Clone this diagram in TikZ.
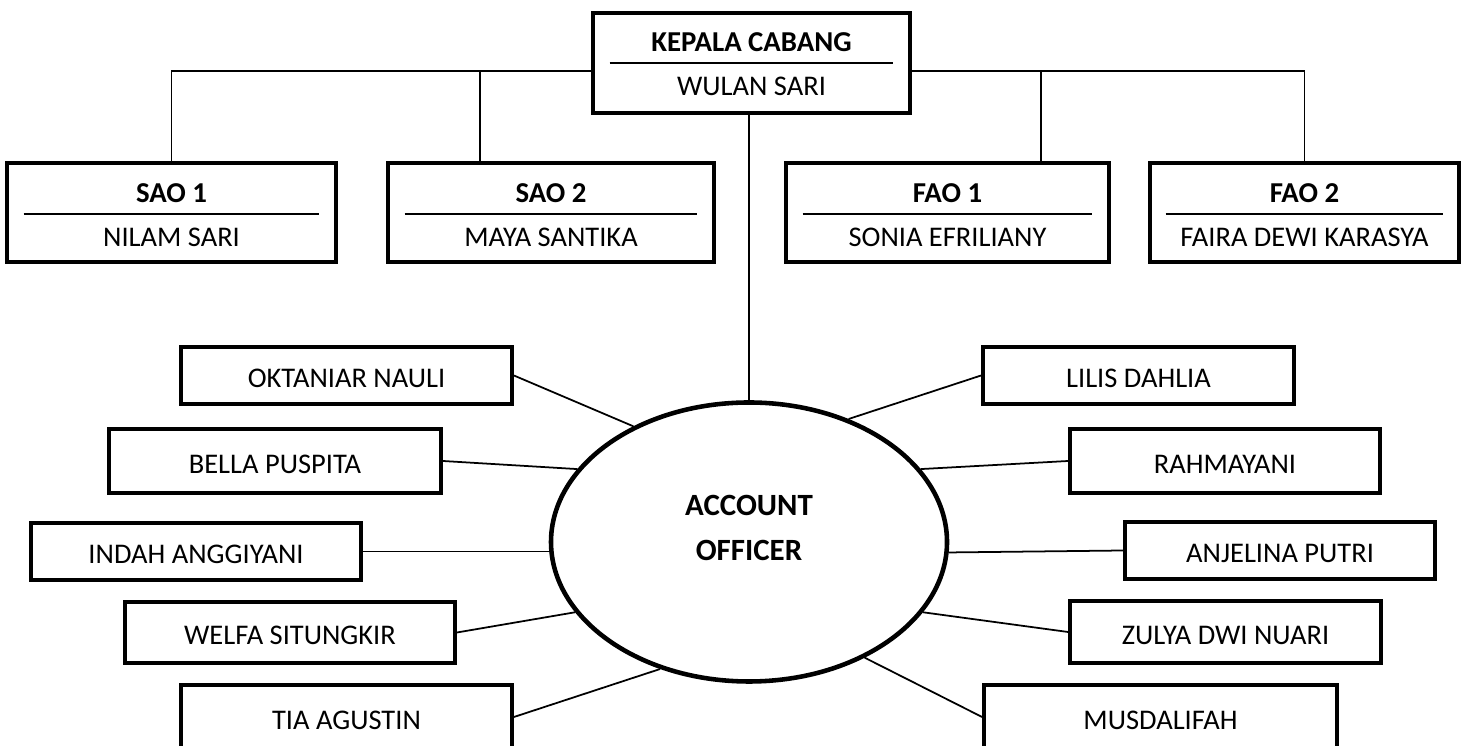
\documentclass[tikz,border=0pt]{standalone}
\usepackage{fontspec}
\setmainfont{Carlito}
\usepackage{tikz}
\usetikzlibrary{shapes.geometric}

\begin{document}
\begin{tikzpicture}[
		every node/.style = {font = \fontsize{8.1}{10}\selectfont},
		headbox/.style = {draw, line width = 1.1pt, minimum height = 0.99cm, inner sep = 0pt},
		namebox/.style = {draw, line width = 1.1pt, inner sep = 0pt, text height = 6.9pt, text depth = 0pt},
		headtext/.style = {anchor = base, inner sep = 0pt, font = \fontsize{8.2}{10}\selectfont\bfseries},
		nametext/.style = {anchor = base, inner sep = 0pt},
		link/.style = {line width = 0.5pt},
		split/.style = {line width = 0.35pt}
	]
		\useasboundingbox (0, 0) rectangle (14.67, -7.46);

		% kepala cabang
		\node [headbox, minimum width = 3.17cm, minimum height = 1.0cm] (kc) at (7.515, -0.63) {};
		\node [headtext] (kcT) at ([yshift = -0.40cm] kc.north) {KEPALA CABANG};
		\draw [split] ([xshift = 0.185cm, yshift = -0.52cm] kc.north west)
			-- ([xshift = -0.185cm, yshift = -0.52cm] kc.north east);
		\node [nametext] (kcN) at ([yshift = -0.84cm] kc.north) {WULAN SARI};

		% second row
		\node [headbox, minimum width = 3.29cm] (sao1) at (1.715, -2.125) {};
		\node [headtext] (sao1T) at ([yshift = -0.41cm] sao1.north) {SAO 1};
		\draw [split] ([xshift = 0.185cm, yshift = -0.53cm] sao1.north west)
			-- ([xshift = -0.185cm, yshift = -0.53cm] sao1.north east);
		\node [nametext] (sao1N) at ([yshift = -0.85cm] sao1.north) {NILAM SARI};

		\node [headbox, minimum width = 3.26cm] (sao2) at (5.51, -2.125) {};
		\node [headtext] (sao2T) at ([yshift = -0.41cm] sao2.north) {SAO 2};
		\draw [split] ([xshift = 0.185cm, yshift = -0.53cm] sao2.north west)
			-- ([xshift = -0.185cm, yshift = -0.53cm] sao2.north east);
		\node [nametext] (sao2N) at ([yshift = -0.85cm] sao2.north) {MAYA SANTIKA};

		\node [headbox, minimum width = 3.23cm] (fao1) at (9.475, -2.125) {};
		\node [headtext] (fao1T) at ([yshift = -0.41cm] fao1.north) {FAO 1};
		\draw [split] ([xshift = 0.185cm, yshift = -0.53cm] fao1.north west)
			-- ([xshift = -0.185cm, yshift = -0.53cm] fao1.north east);
		\node [nametext] (fao1N) at ([yshift = -0.85cm] fao1.north) {SONIA EFRILIANY};

		\node [headbox, minimum width = 3.09cm] (fao2) at (13.045, -2.125) {};
		\node [headtext] (fao2T) at ([yshift = -0.41cm] fao2.north) {FAO 2};
		\draw [split] ([xshift = 0.175cm, yshift = -0.53cm] fao2.north west)
			-- ([xshift = -0.175cm, yshift = -0.53cm] fao2.north east);
		\node [nametext] (fao2N) at ([yshift = -0.85cm] fao2.north) {FAIRA DEWI KARASYA};

		% account officer
		\node [draw, ellipse, line width = 1.3pt, minimum width = 3.96cm, minimum height = 2.79cm, inner sep = 0pt] (ao) at (7.49, -5.42) {};
		\node [align = center, inner sep = 0pt, font = \fontsize{8.8}{12.8}\selectfont\bfseries] (aoT) at (7.49, -5.28) {ACCOUNT\\OFFICER};

		% left hand
		\node [namebox, minimum width = 3.31cm, minimum height = 0.57cm] (okt) at (3.465, -3.755) {OKTANIAR NAULI};
		\node [namebox, minimum width = 3.32cm, minimum height = 0.64cm] (bella) at (2.75, -4.61) {BELLA PUSPITA};
		\node [namebox, minimum width = 3.30cm, minimum height = 0.57cm] (indah) at (1.96, -5.515) {INDAH ANGGIYANI};
		\node [namebox, minimum width = 3.30cm, minimum height = 0.61cm] (welfa) at (2.90, -6.325) {WELFA SITUNGKIR};
		\node [namebox, minimum width = 3.31cm, minimum height = 0.64cm] (tia) at (3.465, -7.17) {TIA AGUSTIN};

		% right hand
		\node [namebox, minimum width = 3.11cm, minimum height = 0.57cm] (lilis) at (11.385, -3.755) {LILIS DAHLIA};
		\node [namebox, minimum width = 3.10cm, minimum height = 0.64cm] (rahma) at (12.25, -4.61) {RAHMAYANI};
		\node [namebox, minimum width = 3.10cm, minimum height = 0.57cm] (anjel) at (12.80, -5.505) {ANJELINA PUTRI};
		\node [namebox, minimum width = 3.11cm, minimum height = 0.62cm] (zulya) at (12.255, -6.32) {ZULYA DWI NUARI};
		\node [namebox, minimum width = 3.53cm, minimum height = 0.64cm] (musda) at (11.605, -7.17) {MUSDALIFAH};

		% top lines
		\draw [link] ([yshift = -0.08cm] kc.west) -| (sao1.north);
		\draw [link] ([xshift = -0.71cm] sao2.north) |- ([yshift = -0.08cm] kc.west);
		\draw [link] ([yshift = -0.08cm] kc.east) -| (fao2.north);
		\draw [link] ([xshift = 0.935cm] fao1.north) |- ([yshift = -0.08cm] kc.east);
		\draw [link] (ao.north) -- (ao.north |- kc.south);

		% spokes
		\draw [link] (okt.east) -- (ao.135);
		\draw [link] (bella.east) -- (ao.157);
		\draw [link] (indah.east) -- (indah.east -| ao.west);
		\draw [link] (welfa.east) -- (ao.202);
		\draw [link] (tia.east) -- (ao.235);
		\draw [link] (lilis.west) -- (ao.51);
		\draw [link] (rahma.west) -- (ao.23);
		\draw [link] (anjel.west) -- (ao.-3.5);
		\draw [link] (zulya.west) -- (ao.-22.5);
		\draw [link] (musda.west) -- (ao.-45);
	\end{tikzpicture}
\end{document}
